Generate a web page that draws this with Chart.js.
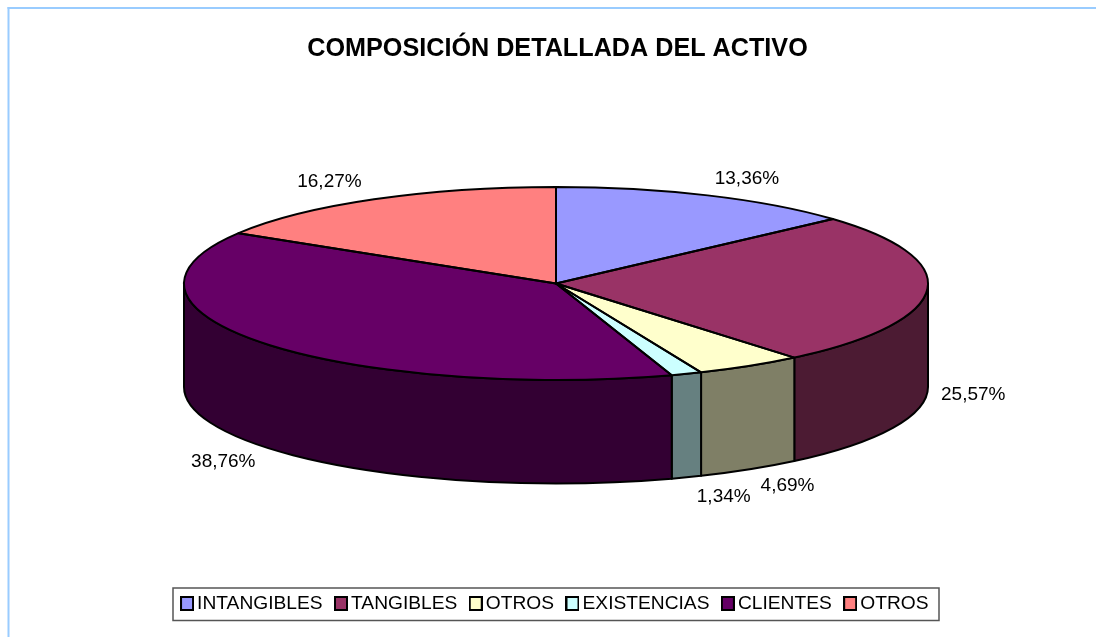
<!DOCTYPE html>
<html><head><meta charset="utf-8">
<style>html,body{margin:0;padding:0;background:#fff}canvas{display:block}</style>
<script src="https://cdn.jsdelivr.net/npm/chart.js@4"></script>
</head><body>
<canvas id="c" width="1096" height="637"></canvas>
<script>
const categories = ['INTANGIBLES','TANGIBLES','OTROS','EXISTENCIAS','CLIENTES','OTROS'];
const values = [13.36,25.57,4.69,1.34,38.76,16.27];
const faceColors = ['#9999FF','#993366','#FFFFCC','#CCFFFF','#660066','#FF8080'];
const sideColors = ['#4C4C80','#4C1B33','#7F7F66','#668080','#330033','#804040'];
const titleText = 'COMPOSICIÓN DETALLADA DEL ACTIVO';

const FONT = '"Liberation Sans", Arial, sans-serif';
const PIE = {cx:556, cy:283.5, rx:372, ry:96.5, depth:103.5};
const LABEL_NUDGE = [[1,4],[-1,1],[3,0],[5,1],[3,4],[-5,2]];

function applyPie(ctx, arc, dy){
  ctx.translate(PIE.cx, PIE.cy + (dy||0));
  ctx.scale(1, PIE.ry/PIE.rx);
  ctx.translate(-arc.x, -arc.y);
}
function swatch(color){
  const s = document.createElement('canvas'); s.width = 14; s.height = 15;
  const g = s.getContext('2d');
  g.fillStyle = '#000'; g.fillRect(0,0,14,15);
  g.fillStyle = color; g.fillRect(2,2,10,11);
  return s;
}
const pie3d = {
  id:'pie3d',
  beforeDraw(chart){
    const ctx = chart.ctx;
    ctx.save();
    ctx.fillStyle = '#fff'; ctx.fillRect(0,0,chart.width,chart.height);
    ctx.fillStyle = '#99CCFF';
    ctx.fillRect(7.5,7,chart.width-7.5,2);
    ctx.fillRect(7.5,7,2,chart.height-7);
    ctx.restore();
  },
  beforeDatasetsDraw(chart){
    const ctx = chart.ctx, arcs = chart.getDatasetMeta(0).data;
    ctx.save();
    ctx.lineWidth = 2; ctx.strokeStyle = '#000'; ctx.lineJoin = 'round';
    arcs.forEach((arc,i)=>{
      const a = Math.max(arc.startAngle,0), b = Math.min(arc.endAngle,Math.PI);
      if (b <= a) return;
      const m = ctx.getTransform();
      ctx.beginPath();
      applyPie(ctx,arc,0);
      ctx.arc(arc.x,arc.y,arc.outerRadius,a,b);
      ctx.setTransform(m);
      applyPie(ctx,arc,PIE.depth);
      ctx.arc(arc.x,arc.y,arc.outerRadius,b,a,true);
      ctx.setTransform(m);
      ctx.closePath();
      ctx.fillStyle = sideColors[i];
      ctx.fill(); ctx.stroke();
    });
    ctx.restore();
    ctx.save();
    applyPie(ctx,arcs[0],0);
  },
  afterDatasetsDraw(chart){
    const ctx = chart.ctx, arcs = chart.getDatasetMeta(0).data;
    ctx.restore();
    ctx.save();
    ctx.lineWidth = 2; ctx.strokeStyle = '#000'; ctx.lineJoin = 'round';
    arcs.forEach(arc=>{
      const m = ctx.getTransform();
      ctx.beginPath();
      applyPie(ctx,arc,0);
      ctx.moveTo(arc.x,arc.y);
      ctx.arc(arc.x,arc.y,arc.outerRadius,arc.startAngle,arc.endAngle);
      ctx.closePath();
      ctx.setTransform(m);
      ctx.stroke();
    });
    // data labels
    ctx.font = '19px '+FONT; ctx.fillStyle = '#000';
    ctx.textAlign = 'center'; ctx.textBaseline = 'middle';
    arcs.forEach((arc,i)=>{
      const mid = (arc.startAngle+arc.endAngle)/2;
      const c = Math.cos(mid), s = Math.sin(mid);
      const txt = values[i].toFixed(2).replace('.',',')+'%';
      const w = ctx.measureText(txt).width;
      const x = PIE.cx + c*(PIE.rx+15) + Math.sign(c)*w/2 + LABEL_NUDGE[i][0];
      const y = 283 + s*118 + (s>0?102:0) + LABEL_NUDGE[i][1];
      ctx.fillText(txt,x,y);
    });
    ctx.restore();
  },
  afterDraw(chart){
    const ctx = chart.ctx;
    ctx.save();
    ctx.strokeStyle = '#555'; ctx.lineWidth = 1.5;
    ctx.strokeRect(173,588,766,32.5);
    ctx.restore();
  }
};
const baseLabels = Chart.overrides.doughnut.plugins.legend.labels.generateLabels;
new Chart(document.getElementById('c'),{
  type:'pie',
  data:{labels:categories,datasets:[{data:values,backgroundColor:faceColors,borderWidth:0,radius:PIE.rx}]},
  plugins:[pie3d],
  options:{
    responsive:false,animation:false,
    layout:{padding:{left:19,right:0,top:0,bottom:13.9}},
    plugins:{
      tooltip:{enabled:false},
      title:{display:true,text:titleText,color:'#000',
        font:{family:FONT,size:25.2,weight:'bold'},padding:{top:33.5,bottom:10}},
      legend:{display:true,position:'bottom',
        labels:{color:'#000',font:{family:FONT,size:19.2},usePointStyle:true,pointStyleWidth:1,padding:17.9,
          generateLabels(chart){
            return baseLabels(chart).map((l,i)=>Object.assign(l,{pointStyle:swatch(faceColors[i])}));
          }}}
    }
  }
});
</script>
</body></html>
